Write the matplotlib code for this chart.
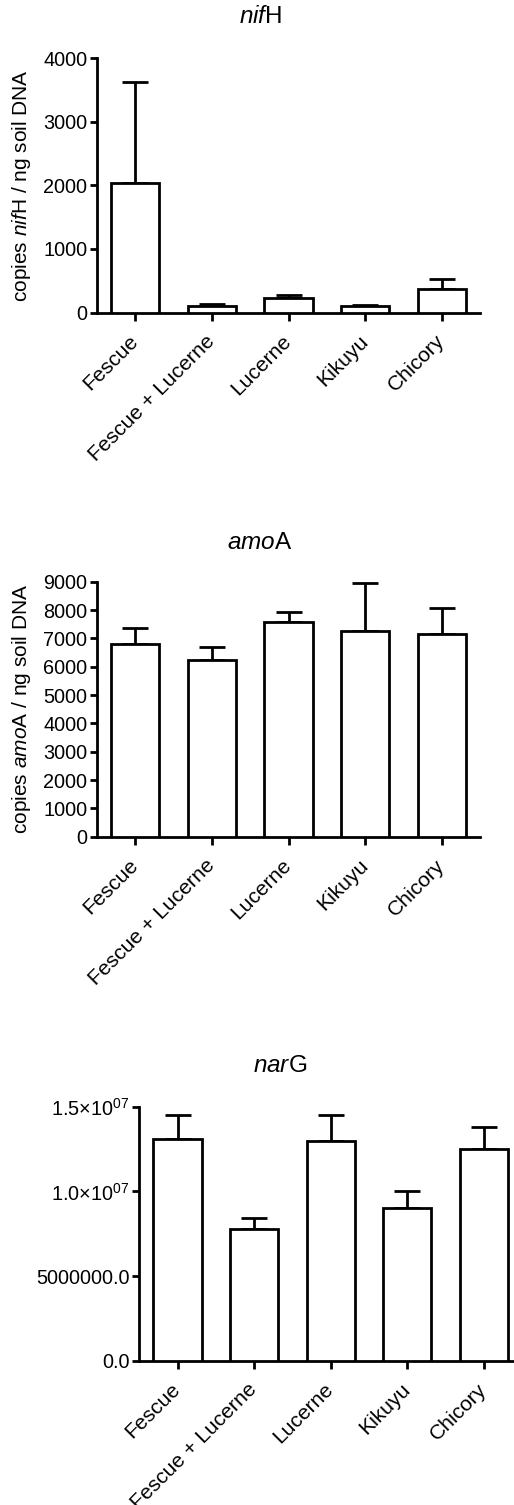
import matplotlib
matplotlib.use('Agg')
import matplotlib.pyplot as plt

plt.rcParams['font.family'] = ['Liberation Sans', 'DejaVu Sans']
plt.rcParams['mathtext.fontset'] = 'custom'
plt.rcParams['mathtext.rm'] = 'Liberation Sans'
plt.rcParams['mathtext.it'] = 'Liberation Sans:italic'

# data
groups = ['Fescue', 'Fescue + Lucerne', 'Lucerne', 'Kikuyu', 'Chicory']

nifh_mean = [2030, 110, 225, 105, 375]
nifh_err = [1600, 20, 55, 18, 150]

amoa_mean = [6810, 6240, 7570, 7250, 7160]
amoa_err = [570, 460, 370, 1690, 910]

narg_mean = [1.31e7, 7.8e6, 1.298e7, 9.0e6, 1.25e7]
narg_err = [1.43e6, 6.3e5, 1.55e6, 1.0e6, 1.28e6]

nifh_ticks = [0, 1000, 2000, 3000, 4000]
amoa_ticks = [0, 1000, 2000, 3000, 4000, 5000, 6000, 7000, 8000, 9000]
narg_ticks = [0, 5e6, 1.0e7, 1.5e7]
narg_ticklabels = ['0.0', '5000000.0', r'1.0$\times$10$^{07}$', r'1.5$\times$10$^{07}$']

fig_w, fig_h = 514, 1505
tick_size = 14.3
xlabel_size = 15.2
label_size = 15
title_size = 17.5
line_width = 2
line_color = 'black'

fig = plt.figure(figsize=(fig_w / 100, fig_h / 100), dpi=100)


def px_axes(left, right, top, bottom):
    return fig.add_axes([left / fig_w, 1 - bottom / fig_h,
                         (right - left) / fig_w, (bottom - top) / fig_h])


def draw_panel(ax, means, errs, ymax):
    x = range(len(groups))
    ax.bar(x, means, width=0.63, color='white', edgecolor=line_color,
           linewidth=line_width, zorder=3)
    ax.errorbar(x, means, yerr=[[0] * len(errs), errs], fmt='none',
                ecolor=line_color, elinewidth=line_width, capsize=9.4,
                capthick=line_width, zorder=2)
    ax.set_xlim(-0.5, len(groups) - 0.5)
    ax.set_ylim(0, ymax)
    ax.set_xticks(list(x))
    ax.set_xticklabels(groups, rotation=45, ha='right', va='center',
                       rotation_mode='anchor', fontsize=xlabel_size)
    ax.spines['top'].set_visible(False)
    ax.spines['right'].set_visible(False)
    ax.spines['left'].set_linewidth(line_width)
    ax.spines['bottom'].set_linewidth(line_width)
    ax.tick_params(axis='y', labelsize=tick_size, width=line_width,
                   colors=line_color, length=5, pad=2)
    ax.tick_params(axis='x', width=line_width, colors=line_color,
                   length=5.5, pad=13)
    ax.set_facecolor('none')


ax1 = px_axes(97, 480, 58, 312.5)
draw_panel(ax1, nifh_mean, nifh_err, 4000)
ax1.set_yticks(nifh_ticks)
ax1.set_ylabel(r'copies $\mathit{nif}$H / ng soil DNA', fontsize=label_size)
ax1.yaxis.set_label_coords(-0.167, 0.5)
fig.text(261 / fig_w, 1 - 17 / fig_h, r'$\mathit{nif}$H', fontsize=title_size,
         ha='center', va='center')

ax2 = px_axes(97, 480, 581.7, 836.7)
draw_panel(ax2, amoa_mean, amoa_err, 9000)
ax2.set_yticks(amoa_ticks)
ax2.set_ylabel(r'copies $\mathit{amo}$A / ng soil DNA', fontsize=label_size)
ax2.yaxis.set_label_coords(-0.167, 0.5)
fig.text(260 / fig_w, 1 - 542.7 / fig_h, r'$\mathit{amo}$A', fontsize=title_size,
         ha='center', va='center')

ax3 = px_axes(139.3, 522, 1106.7, 1360.7)
draw_panel(ax3, narg_mean, narg_err, 1.5e7)
ax3.set_yticks(narg_ticks)
ax3.set_yticklabels(narg_ticklabels)
fig.text(280.5 / fig_w, 1 - 1066 / fig_h, r'$\mathit{nar}$G', fontsize=title_size,
         ha='center', va='center')

plt.savefig('out.png', dpi=100)
plt.close('all')
